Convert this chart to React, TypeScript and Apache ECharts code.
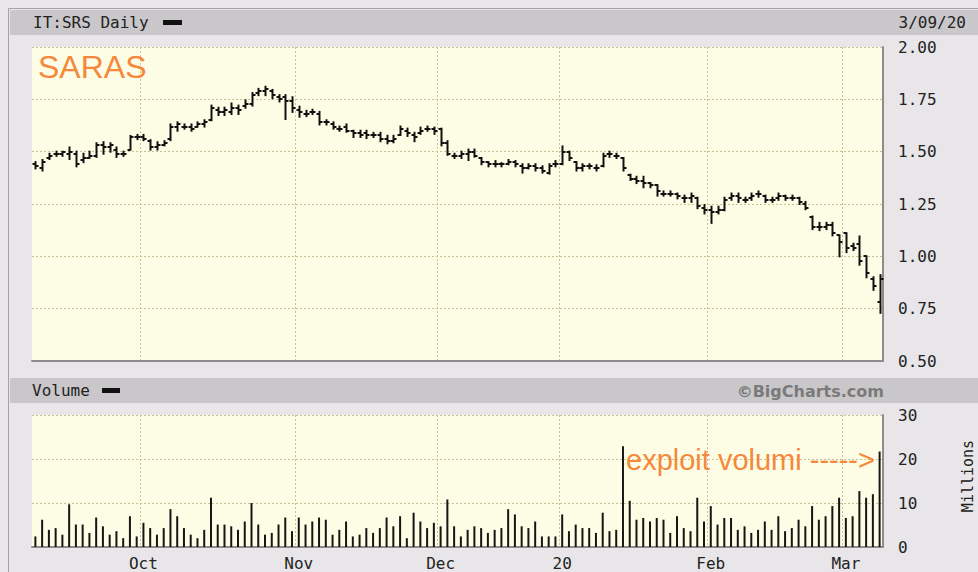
import React, { useEffect, useRef } from "react";
import * as echarts from "echarts";

// ---- data ----
const firstDay = "2019-09-09";
const lastDay = "2020-03-09";
const holidays = ["2019-12-24", "2019-12-25", "2019-12-26", "2019-12-31", "2020-01-01"];
const monthLabels: Record<string, string> = { "10": "Oct", "11": "Nov", "12": "Dec", "01": "20", "02": "Feb", "03": "Mar" };

const opens = [
  1.44, 1.42, 1.47, 1.49, 1.49, 1.49, 1.49, 1.46, 1.47, 1.48, 1.53, 1.52, 1.51, 1.49, 1.51, 1.57,
  1.57, 1.55, 1.52, 1.53, 1.56, 1.62, 1.62, 1.62, 1.62, 1.63, 1.65, 1.70, 1.69, 1.69, 1.71, 1.72, 1.73, 1.78, 1.79, 1.79, 1.76, 1.76, 1.74,
  1.70, 1.68, 1.69, 1.68, 1.64, 1.63, 1.61, 1.62, 1.60, 1.59, 1.59, 1.58, 1.58, 1.56, 1.55, 1.58, 1.60, 1.58, 1.59, 1.61, 1.61,
  1.61, 1.54, 1.48, 1.48, 1.49, 1.50, 1.47, 1.45, 1.44, 1.44, 1.44, 1.45, 1.43, 1.42, 1.43, 1.42, 1.40, 1.44,
  1.44, 1.50, 1.45, 1.42, 1.43, 1.42, 1.43, 1.49, 1.48, 1.47, 1.39, 1.37, 1.36, 1.35, 1.34, 1.30, 1.30, 1.30, 1.28, 1.28, 1.28, 1.23,
  1.22, 1.21, 1.22, 1.28, 1.29, 1.27, 1.28, 1.30, 1.29, 1.27, 1.28, 1.29, 1.28, 1.28, 1.25, 1.19, 1.14, 1.14, 1.15, 1.10,
  1.11, 1.05, 1.06, 1.00, 0.89, 0.78,
];
const highs = [
  1.45, 1.46, 1.49, 1.50, 1.50, 1.52, 1.50, 1.49, 1.50, 1.54, 1.545, 1.54, 1.52, 1.50, 1.575, 1.58,
  1.58, 1.555, 1.545, 1.55, 1.63, 1.64, 1.63, 1.63, 1.64, 1.65, 1.72, 1.71, 1.71, 1.73, 1.72, 1.745, 1.78, 1.80, 1.81, 1.795, 1.77, 1.77, 1.76,
  1.715, 1.695, 1.70, 1.69, 1.65, 1.64, 1.62, 1.63, 1.60, 1.60, 1.60, 1.59, 1.59, 1.576, 1.576, 1.62, 1.61, 1.59, 1.615, 1.62, 1.615,
  1.61, 1.55, 1.49, 1.50, 1.51, 1.51, 1.47, 1.45, 1.455, 1.445, 1.46, 1.455, 1.44, 1.44, 1.44, 1.43, 1.44, 1.455,
  1.525, 1.50, 1.45, 1.44, 1.44, 1.435, 1.49, 1.50, 1.49, 1.47, 1.39, 1.38, 1.38, 1.35, 1.34, 1.31, 1.31, 1.30, 1.29, 1.30, 1.28, 1.245,
  1.237, 1.237, 1.28, 1.30, 1.30, 1.28, 1.30, 1.31, 1.29, 1.28, 1.30, 1.29, 1.29, 1.28, 1.26, 1.19, 1.16, 1.16, 1.16, 1.10,
  1.11, 1.06, 1.095, 1.00, 0.90, 0.91,
];
const lows = [
  1.42, 1.41, 1.465, 1.48, 1.48, 1.465, 1.43, 1.45, 1.47, 1.475, 1.49, 1.50, 1.475, 1.48, 1.51, 1.56,
  1.555, 1.51, 1.51, 1.53, 1.555, 1.60, 1.61, 1.60, 1.62, 1.62, 1.65, 1.675, 1.675, 1.68, 1.68, 1.71, 1.72, 1.77, 1.77, 1.755, 1.74, 1.656, 1.69,
  1.667, 1.67, 1.68, 1.63, 1.63, 1.61, 1.60, 1.595, 1.57, 1.57, 1.565, 1.57, 1.55, 1.54, 1.545, 1.58, 1.575, 1.55, 1.585, 1.60, 1.585,
  1.53, 1.485, 1.47, 1.47, 1.46, 1.476, 1.44, 1.43, 1.43, 1.43, 1.44, 1.43, 1.40, 1.42, 1.41, 1.40, 1.395, 1.43,
  1.44, 1.46, 1.41, 1.41, 1.42, 1.41, 1.43, 1.475, 1.47, 1.41, 1.365, 1.35, 1.33, 1.33, 1.29, 1.29, 1.29, 1.277, 1.26, 1.26, 1.23, 1.205,
  1.16, 1.205, 1.22, 1.27, 1.26, 1.26, 1.27, 1.285, 1.26, 1.26, 1.27, 1.27, 1.27, 1.25, 1.225, 1.13, 1.125, 1.13, 1.10, 1.00,
  1.02, 1.03, 0.96, 0.90, 0.84, 0.73,
];
const closes = [
  1.43, 1.45, 1.48, 1.49, 1.50, 1.50, 1.44, 1.47, 1.48, 1.53, 1.52, 1.53, 1.49, 1.49, 1.57, 1.57,
  1.56, 1.52, 1.53, 1.54, 1.62, 1.63, 1.62, 1.61, 1.63, 1.64, 1.71, 1.69, 1.70, 1.71, 1.70, 1.73, 1.77, 1.79, 1.80, 1.77, 1.75, 1.74, 1.71,
  1.69, 1.68, 1.69, 1.64, 1.64, 1.62, 1.61, 1.60, 1.59, 1.58, 1.58, 1.58, 1.56, 1.55, 1.56, 1.61, 1.59, 1.57, 1.60, 1.61, 1.60,
  1.54, 1.49, 1.48, 1.49, 1.50, 1.48, 1.45, 1.44, 1.44, 1.44, 1.45, 1.44, 1.42, 1.43, 1.42, 1.41, 1.43, 1.44,
  1.50, 1.47, 1.42, 1.43, 1.43, 1.42, 1.48, 1.49, 1.48, 1.42, 1.37, 1.36, 1.35, 1.34, 1.31, 1.30, 1.30, 1.29, 1.28, 1.29, 1.24, 1.22,
  1.21, 1.22, 1.27, 1.29, 1.28, 1.27, 1.29, 1.30, 1.27, 1.27, 1.29, 1.28, 1.28, 1.26, 1.23, 1.14, 1.14, 1.15, 1.11, 1.07,
  1.04, 1.04, 0.98, 0.92, 0.86, 0.89,
];
const volumes = [
  2.4, 6.2, 3.9, 4.3, 2.8, 9.7, 5.1, 5.1, 3.2, 6.7, 4.7, 2.8, 3.6, 2.0, 7.0, 2.4,
  5.5, 4.3, 2.8, 4.3, 8.6, 7.0, 4.3, 2.8, 2.0, 3.9, 11.2, 5.1, 5.1, 4.7, 3.9, 5.8, 10.0, 5.1, 2.8, 3.2, 5.1, 6.7, 3.6,
  6.7, 5.1, 5.8, 6.7, 6.2, 2.8, 3.9, 5.8, 2.4, 2.8, 4.3, 3.2, 4.3, 6.7, 4.7, 7.0, 2.0, 7.8, 5.8, 4.3, 5.5,
  4.7, 10.8, 4.7, 2.4, 3.9, 4.7, 4.3, 3.2, 3.9, 4.3, 8.6, 7.4, 4.7, 4.3, 5.8, 2.4, 2.4, 2.4,
  7.4, 3.6, 5.1, 4.3, 4.3, 3.2, 7.8, 3.6, 3.9, 22.9, 10.5, 6.2, 6.6, 5.8, 6.6, 6.2, 3.2, 7.0, 4.3, 3.6, 11.2, 5.8,
  9.3, 5.1, 6.6, 6.6, 3.9, 4.7, 3.2, 3.9, 5.8, 3.9, 7.0, 3.6, 4.3, 6.2, 4.7, 9.3, 6.2, 7.0, 9.3, 11.2,
  6.6, 7.0, 12.7, 11.2, 12.0, 21.7,
];
const priceTicks = { min: 0.5, max: 2.0, interval: 0.25 };
const volumeTicks = { min: 0, max: 30, interval: 10 };

function tradingDays(start: string, end: string, skip: string[]): string[] {
  const out: string[] = [];
  const d = new Date(start + "T12:00:00Z");
  const e = new Date(end + "T12:00:00Z");
  while (d <= e) {
    const wd = d.getUTCDay();
    const s = d.toISOString().slice(0, 10);
    if (wd !== 0 && wd !== 6 && skip.indexOf(s) < 0) out.push(s);
    d.setUTCDate(d.getUTCDate() + 1);
  }
  return out;
}

const dates = tradingDays(firstDay, lastDay, holidays);
const monthStart = new Set<number>();
dates.forEach((d, i) => {
  if (i > 0 && d.slice(5, 7) !== dates[i - 1].slice(5, 7)) monthStart.add(i);
});

const MONO = "'DejaVu Sans Mono', monospace";
const GRID_LINE = { color: "#c9c096", width: 1, type: [2, 2] as number[] };
const PLOT_BG = "#fdfde6";
const ORANGE = "#f5883a";

export default function App() {
  const ref = useRef<HTMLDivElement>(null);
  useEffect(() => {
    if (!ref.current) return;
    const chart = echarts.init(ref.current, null, { renderer: "svg" });
    const ohlc = dates.map((_, i) => [i, opens[i], closes[i], lows[i], highs[i]]);
    const xCommon = {
      type: "category" as const,
      data: dates,
      boundaryGap: true,
      axisTick: { show: false },
      axisLine: { show: true, lineStyle: { color: "#8c8c8c", width: 2 } },
      splitLine: { show: true, interval: (i: number) => monthStart.has(i), lineStyle: GRID_LINE },
    };
    const yLabel = { align: "left" as const, margin: 15, fontFamily: MONO, fontSize: 16, color: "#222" };
    chart.setOption({
      animation: false,
      backgroundColor: "transparent",
      grid: [
        { left: 32, top: 47, width: 851, height: 314, show: true, backgroundColor: PLOT_BG, borderWidth: 0 },
        { left: 32, top: 415, width: 851, height: 132, show: true, backgroundColor: PLOT_BG, borderWidth: 0 },
      ],
      xAxis: [
        { ...xCommon, gridIndex: 0, axisLabel: { show: false } },
        {
          ...xCommon,
          gridIndex: 1,
          axisLabel: {
            show: true,
            interval: (i: number) => monthStart.has(i),
            formatter: (v: string) => monthLabels[v.slice(5, 7)] || "",
            fontFamily: MONO,
            fontSize: 16,
            color: "#222",
            margin: 8,
          },
        },
      ],
      yAxis: [
        {
          type: "value",
          gridIndex: 0,
          position: "right",
          ...priceTicks,
          axisLine: { show: true, lineStyle: { color: "#8c8c8c", width: 2 } },
          axisTick: { show: false },
          axisLabel: { ...yLabel, formatter: (v: number) => v.toFixed(2) },
          splitLine: { show: true, lineStyle: GRID_LINE },
        },
        {
          type: "value",
          gridIndex: 1,
          position: "right",
          ...volumeTicks,
          axisLine: { show: true, lineStyle: { color: "#8c8c8c", width: 2 } },
          axisTick: { show: false },
          axisLabel: { ...yLabel },
          splitLine: { show: true, lineStyle: GRID_LINE },
        },
      ],
      series: [
        {
          type: "custom",
          xAxisIndex: 0,
          yAxisIndex: 0,
          encode: { x: 0, y: [1, 2, 3, 4] },
          data: ohlc,
          renderItem: (_params: any, api: any) => {
            const idx = api.value(0);
            const x = Math.round(api.coord([idx, 0])[0]) + 0.5;
            const yo = Math.round(api.coord([idx, api.value(1)])[1]);
            const yc = Math.round(api.coord([idx, api.value(2)])[1]);
            const yl = api.coord([idx, api.value(3)])[1];
            const yh = api.coord([idx, api.value(4)])[1];
            const st = { stroke: "#111", lineWidth: 2 };
            return {
              type: "group",
              children: [
                { type: "line", shape: { x1: x, y1: yh - 1, x2: x, y2: yl + 1 }, style: st },
                { type: "line", shape: { x1: x - 3, y1: yo, x2: x, y2: yo }, style: st },
                { type: "line", shape: { x1: x, y1: yc, x2: x + 3, y2: yc }, style: st },
              ],
            };
          },
          z: 5,
        },
        {
          type: "bar",
          xAxisIndex: 1,
          yAxisIndex: 1,
          data: volumes,
          barWidth: 2,
          itemStyle: { color: "#151515" },
          z: 5,
        },
      ],
      graphic: [
        { type: "rect", shape: { x: 8.5, y: 8.5, width: 980, height: 580 }, style: { fill: "none", stroke: "#a3a3a3", lineWidth: 1 }, silent: true },
        { type: "rect", shape: { x: 10, y: 10, width: 968, height: 25 }, style: { fill: "#c9c7c9" }, silent: true },
        { type: "rect", shape: { x: 10, y: 378, width: 968, height: 25 }, style: { fill: "#c9c7c9" }, silent: true },
        { type: "text", x: 33, y: 22, style: { text: "IT:SRS Daily", font: `16px ${MONO}`, fill: "#222", verticalAlign: "middle" } },
        { type: "rect", shape: { x: 163, y: 20, width: 19, height: 5 }, style: { fill: "#111" } },
        { type: "text", x: 966, y: 22, style: { text: "3/09/20", font: `16px ${MONO}`, fill: "#222", align: "right", verticalAlign: "middle" } },
        { type: "text", x: 32, y: 390, style: { text: "Volume", font: `16px ${MONO}`, fill: "#222", verticalAlign: "middle" } },
        { type: "rect", shape: { x: 102, y: 388, width: 18, height: 5 }, style: { fill: "#111" } },
        { type: "text", x: 884, y: 391, style: { text: "©BigCharts.com", font: "bold 16px 'DejaVu Sans', sans-serif", fill: "#7a7a7a", align: "right", verticalAlign: "middle" } },
        { type: "text", x: 968, y: 476, rotation: Math.PI / 2, style: { text: "Millions", font: `15px ${MONO}`, fill: "#222", align: "center", verticalAlign: "middle" } },
        { type: "text", x: 38, y: 67, z: 10, style: { text: "SARAS", font: "32px 'Liberation Sans', sans-serif", fill: ORANGE, verticalAlign: "middle" } },
        { type: "text", x: 626, y: 460, z: 10, style: { text: "exploit volumi ----->", font: "29px 'Liberation Sans', sans-serif", fill: ORANGE, verticalAlign: "middle" } },
      ],
    });
    return () => chart.dispose();
  }, []);
  return (
    <div
      ref={ref}
      style={{ position: "fixed", left: 0, top: 0, width: 978, height: 572, background: "#e8e6e8" }}
    />
  );
}
